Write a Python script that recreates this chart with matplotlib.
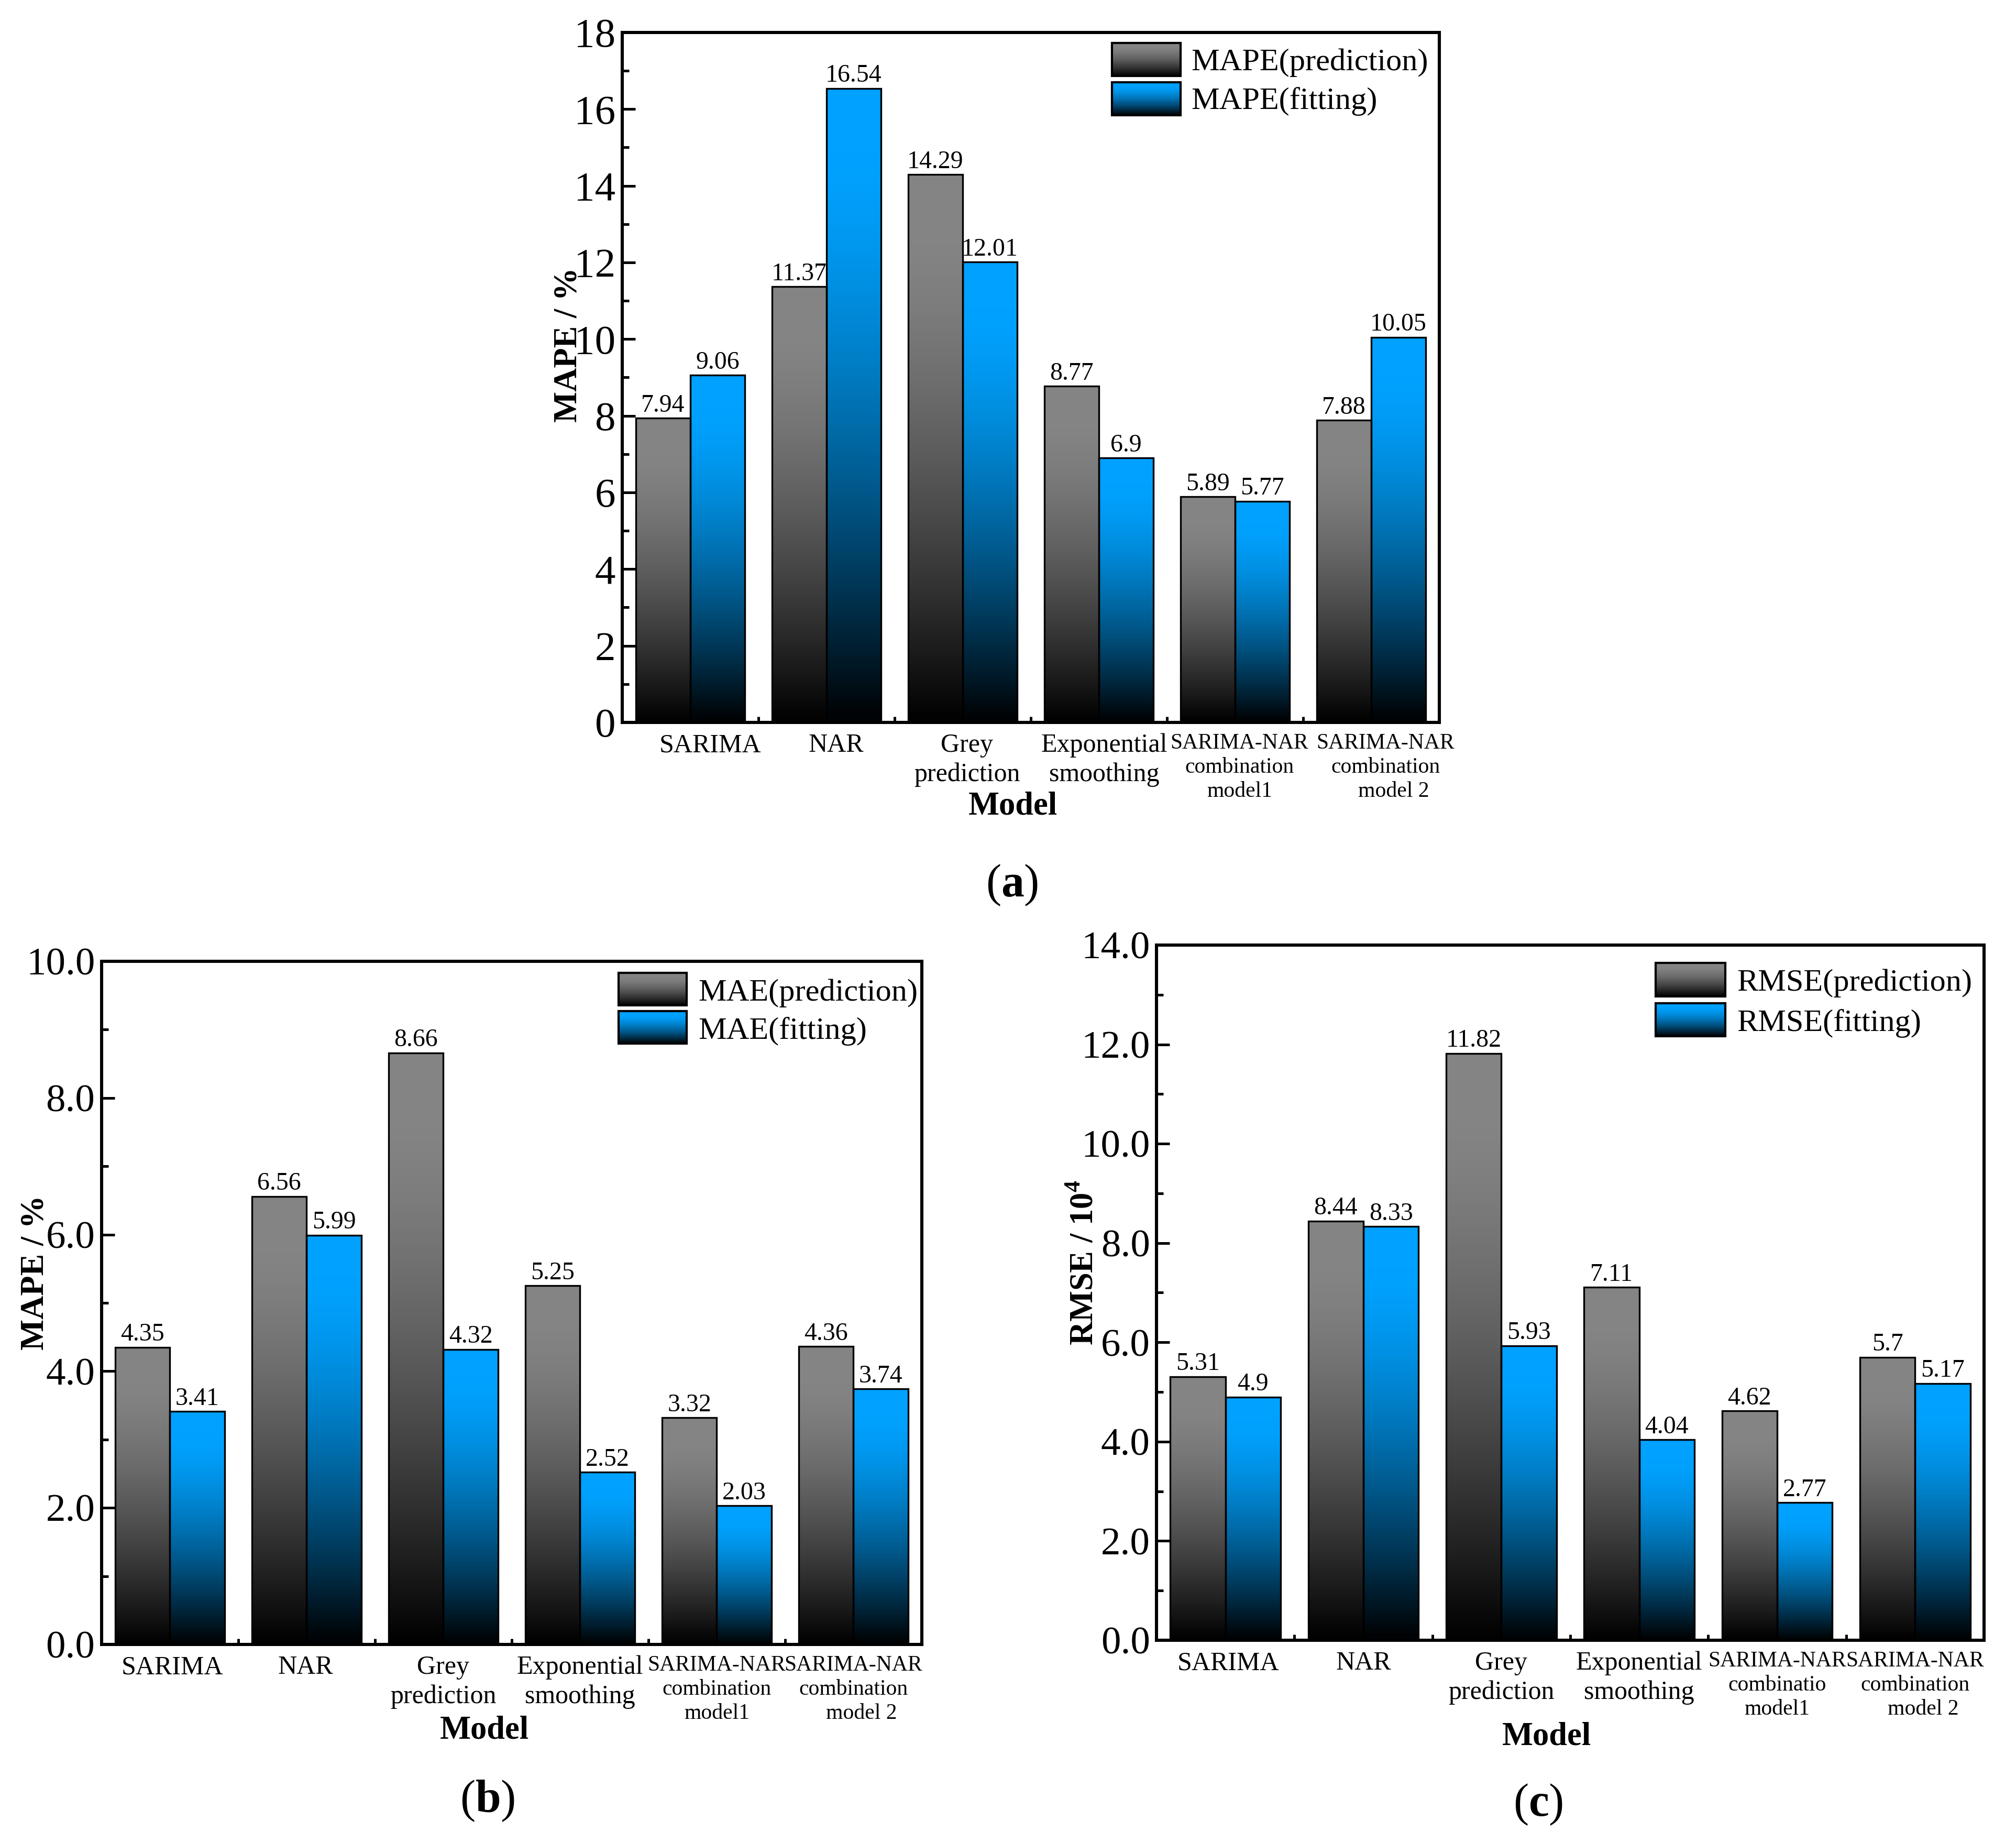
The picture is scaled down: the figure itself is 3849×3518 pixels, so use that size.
import numpy as np
import matplotlib
matplotlib.use('Agg')
import matplotlib.pyplot as plt
import matplotlib.transforms as mtransforms
from matplotlib.patches import Rectangle
from matplotlib.ticker import FormatStrFormatter

plt.rcParams['font.family'] = ['Liberation Serif', 'DejaVu Serif']
plt.rcParams['mathtext.fontset'] = 'custom'
plt.rcParams['mathtext.rm'] = 'Liberation Serif'
plt.rcParams['mathtext.bf'] = 'Liberation Serif:bold'

# -- Data
models = ['SARIMA', 'NAR', 'Grey\nprediction', 'Exponential\nsmoothing',
          'SARIMA-NAR\ncombination\nmodel1', 'SARIMA-NAR\ncombination\n   model 2']
models_c = ['SARIMA', 'NAR', 'Grey\nprediction', 'Exponential\nsmoothing',
            'SARIMA-NAR\ncombinatio\nmodel1', 'SARIMA-NAR\ncombination\n   model 2']

mape_pred = [7.94, 11.37, 14.29, 8.77, 5.89, 7.88]
mape_fit = [9.06, 16.54, 12.01, 6.9, 5.77, 10.05]
mae_pred = [4.35, 6.56, 8.66, 5.25, 3.32, 4.36]
mae_fit = [3.41, 5.99, 4.32, 2.52, 2.03, 3.74]
rmse_pred = [5.31, 8.44, 11.82, 7.11, 4.62, 5.7]
rmse_fit = [4.9, 8.33, 5.93, 4.04, 2.77, 5.17]

W, H = 3849, 3518
DPI = 300
GRAY = (0.52, 0.52, 0.52)
BLUE = (0.0, 0.635, 1.0)

fig = plt.figure(figsize=(W / DPI, H / DPI), dpi=DPI)


# -- Origin style fill: flat colour near the top, fading to black at the bottom
def gradient_img(rgb, n=256):
    t = np.linspace(0, 1, n)
    f = np.where(t < 0.1, 1.0, 1 - ((t - 0.1) / 0.9) ** 1.5)
    f = np.clip(f, 0.02, 1.0)
    return np.array(rgb)[None, None, :] * f[:, None, None]


def panel(rect, labels, pred, fit, ymax, yfmt, ylabel, ytick_size, ylab_xy, xlab_xy, label_shift=None):
    ax = fig.add_axes(rect)
    x = np.arange(len(labels))
    w = 0.4
    b1 = ax.bar(x - w / 2, pred, w, facecolor='none', edgecolor='black', linewidth=0.8, zorder=3)
    b2 = ax.bar(x + w / 2, fit, w, facecolor='none', edgecolor='black', linewidth=0.8, zorder=3)

    for bars, col, vals in ((b1, GRAY, pred), (b2, BLUE, fit)):
        for r, v in zip(bars, vals):
            x0 = r.get_x()
            ax.imshow(gradient_img(col), extent=[x0, x0 + r.get_width(), 0, r.get_height()],
                      aspect='auto', interpolation='bilinear', zorder=2)
            ax.annotate(f'{v:g}', (x0 + r.get_width() / 2, v), xytext=(0, 3),
                        textcoords='offset points', ha='center', va='baseline', fontsize=11.5)

    ax.set_xlim(-0.5, len(labels) - 0.5)
    ax.set_ylim(0, ymax)
    ax.set_xticks(x)
    ax.set_xticklabels([])
    ax.set_xticks(x[:-1] + 0.5, minor=True)

    # -- category labels as text so they can be nudged sideways like the original
    if label_shift is None:
        label_shift = [0] * len(labels)
    for i, (lab, dx) in enumerate(zip(labels, label_shift)):
        tr = ax.get_xaxis_transform() + mtransforms.ScaledTranslation(dx / 72, -5 / 72, fig.dpi_scale_trans)
        ax.text(i, 0, lab, transform=tr, ha='center', va='top', ma='center',
                fontsize=12 if i < 4 else 10, linespacing=1.25)

    ax.set_yticks(np.arange(0, ymax + 0.1, 2))
    ax.set_yticks(np.arange(1, ymax, 2), minor=True)
    ax.yaxis.set_major_formatter(FormatStrFormatter(yfmt))

    ax.tick_params(direction='in', width=1.2, top=False, right=False, which='both')
    ax.tick_params(axis='y', which='major', length=6, labelsize=ytick_size, pad=3)
    ax.tick_params(axis='y', which='minor', length=3)
    ax.tick_params(axis='x', which='major', length=5.5)
    ax.tick_params(axis='x', which='minor', length=2.6)
    for s in ax.spines.values():
        s.set_linewidth(1.45)

    ax.set_ylabel(ylabel, fontsize=15, fontweight='bold', va='center')
    ax.yaxis.set_label_coords(*ylab_xy)
    ax.set_xlabel('Model', fontsize=15, fontweight='bold', va='center')
    ax.xaxis.set_label_coords(*xlab_xy)
    return ax


panel([0.30865, 0.60802, 0.4053, 0.37436], models, mape_pred, mape_fit, 18, '%d',
      'MAPE / %', 19, (-0.066, 0.547), (0.478, -0.122),
      label_shift=[9.0, 4.5, 2.0, 2.5, 2.0, 6.5])
panel([0.0504, 0.10773, 0.40686, 0.37067], models, mae_pred, mae_fit, 10, '%.1f',
      'MAPE / %', 18, (-0.081, 0.544), (0.467, -0.1265),
      label_shift=[1.0, -0.5, 0, 0, 0, 0])
panel([0.57366, 0.11001, 0.41049, 0.3772], models_c, rmse_pred, rmse_fit, 14, '%.1f',
      r'RMSE / 10$^{\mathbf{4}}$', 18, (-0.0867, 0.543), (0.4715, -0.1387),
      label_shift=[1.2, 0, 0, 0, 0, 0])

# -- Overlay in pixel units for the legends and panel letters
ov = fig.add_axes([0, 0, 1, 1], zorder=10)


def legend(px0, px1, rows, text_x, entries):
    for (y0, y1), (label, col, base) in zip(rows, entries):
        ov.imshow(gradient_img(col), extent=[px0, px1, y1, y0], aspect='auto',
                  interpolation='bilinear', zorder=1)
        ov.add_patch(Rectangle((px0, y0), px1 - px0, y1 - y0, fill=False,
                               edgecolor='black', linewidth=1.0, zorder=2))
        ov.text(text_x, base, label, fontsize=14.5, va='baseline', ha='left')


legend(2123, 2254, [(82, 145), (157, 220)], 2274,
       [('MAPE(prediction)', GRAY, 134), ('MAPE(fitting)', BLUE, 208)])
legend(1181, 1311, [(1857, 1919), (1930, 1992)], 1333,
       [('MAE(prediction)', GRAY, 1910), ('MAE(fitting)', BLUE, 1983)])
legend(3161, 3294, [(1838, 1902), (1915, 1978)], 3316,
       [('RMSE(prediction)', GRAY, 1891), ('RMSE(fitting)', BLUE, 1968)])

for lab, (px, py) in (('a', (1932, 1690)), ('b', (931, 3438)), ('c', (2937, 3445))):
    ov.text(px, py, '($\\mathbf{' + lab + '}$)', fontsize=21, ha='center', va='center')

ov.set_xlim(0, W)
ov.set_ylim(H, 0)
ov.axis('off')

fig.savefig('out.png', dpi=DPI)
